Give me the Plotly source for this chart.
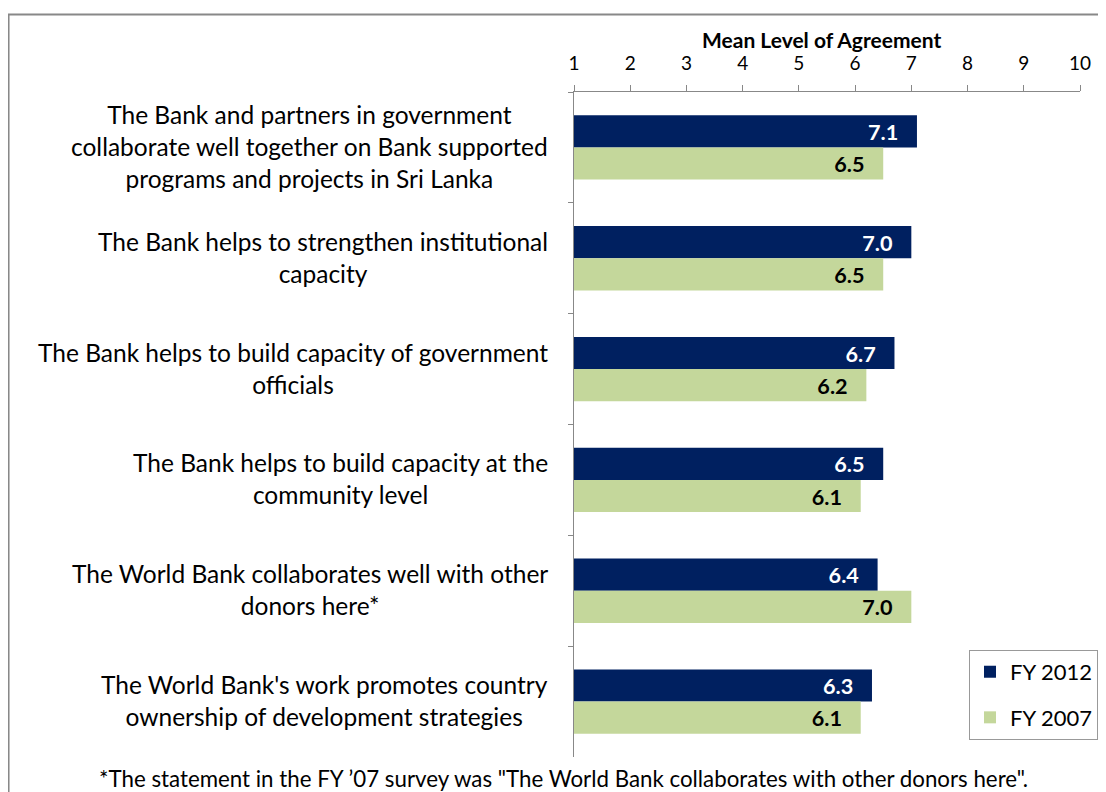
import plotly.graph_objects as go

categories = [
    "The Bank and partners in government<br>collaborate well together on Bank supported<br>programs and projects in Sri Lanka",
    "The Bank helps to strengthen institutional<br>capacity",
    "The Bank helps to build capacity of government<br>officials",
    "The Bank helps to build capacity at the<br>community level",
    "The World Bank collaborates well with other<br>donors here*",
    "The World Bank's work promotes country<br>ownership of development strategies",
]
cat_ids = ["c1", "c2", "c3", "c4", "c5", "c6"]
fy2012 = [7.1, 7.0, 6.7, 6.5, 6.4, 6.3]
fy2007 = [6.5, 6.5, 6.2, 6.1, 7.0, 6.1]
tick_vals = [1, 2, 3, 4, 5, 6, 7, 8, 9, 10]
axis_title = "Mean Level of Agreement"
footnote = "*The statement in the FY \u201907 survey was \"The World Bank collaborates with other donors here\"."

FONT = "Lato"
NAVY = "#002060"
GREEN = "#C4D79B"
PAD = "&nbsp;&nbsp;&nbsp;"

fig = go.Figure()
fig.add_trace(go.Bar(
    y=cat_ids, x=fy2012, orientation="h", name="FY 2012", legendgroup="a",
    marker=dict(color=NAVY, line=dict(width=0)),
    text=[f"{v:.1f}{PAD}" for v in fy2012], textposition="inside", insidetextanchor="end",
    textfont=dict(family=FONT, size=24, color="white", weight="bold"),
))
fig.add_trace(go.Bar(
    y=cat_ids, x=fy2007, orientation="h", name="FY 2007", legendgroup="b",
    marker=dict(color=GREEN, line=dict(width=0)),
    text=[f"{v:.1f}{PAD}" for v in fy2007], textposition="inside", insidetextanchor="end",
    textfont=dict(family=FONT, size=24, color="black", weight="bold"),
))

annotations = []
for cid, label in zip(cat_ids, categories):
    annotations.append(dict(
        xref="paper", yref="y", x=0, y=cid, xanchor="right", yanchor="middle", align="center",
        xshift=-24, yshift=1, text=label, showarrow=False, font=dict(family=FONT, size=24.5, color="black"),
    ))
annotations.append(dict(
    xref="paper", yref="paper", x=0.4887, y=1.079, xanchor="center", yanchor="middle",
    text=f"<b>{axis_title}</b>", showarrow=False, font=dict(family=FONT, size=21, color="black"),
))
annotations.append(dict(
    xref="paper", yref="paper", x=-0.0217, y=-0.0316, xanchor="center", yanchor="middle",
    text=footnote, showarrow=False, font=dict(family=FONT, size=22.3, color="black"),
))

fig.update_layout(
    width=1098, height=784,
    margin=dict(l=566, r=26, t=84, b=35, autoexpand=False),
    paper_bgcolor="white", plot_bgcolor="white",
    barmode="group", bargap=0.42, bargroupgap=0,
    font=dict(family=FONT, color="black"),
    xaxis=dict(
        side="top", range=[1, 10], tickvals=tick_vals, showgrid=False, zeroline=False,
        showline=True, linecolor="#888888", linewidth=1,
        ticks="outside", ticklen=6, tickcolor="#888888", ticklabelstandoff=7,
        tickfont=dict(family=FONT, size=19),
        fixedrange=True,
    ),
    yaxis=dict(
        autorange="reversed", type="category", showticklabels=False, showgrid=False,
        showline=True, linecolor="#888888", linewidth=1,
        ticks="outside", ticklen=5, tickcolor="#888888", tickson="boundaries",
    ),
    legend=dict(
        x=0.7806, y=0.161, xanchor="left", yanchor="top", traceorder="grouped",
        bordercolor="#999999", borderwidth=1, bgcolor="white",
        font=dict(family=FONT, size=22), itemwidth=30, tracegroupgap=14,
    ),
    annotations=annotations,
    shapes=[dict(type="rect", xref="paper", yref="paper", x0=-1.1175, x1=1.2,
                 y0=-0.3, y1=1.1165, line=dict(color="#888888", width=2), fillcolor="rgba(0,0,0,0)")],
    showlegend=True,
)

fig.write_html("out.html")
